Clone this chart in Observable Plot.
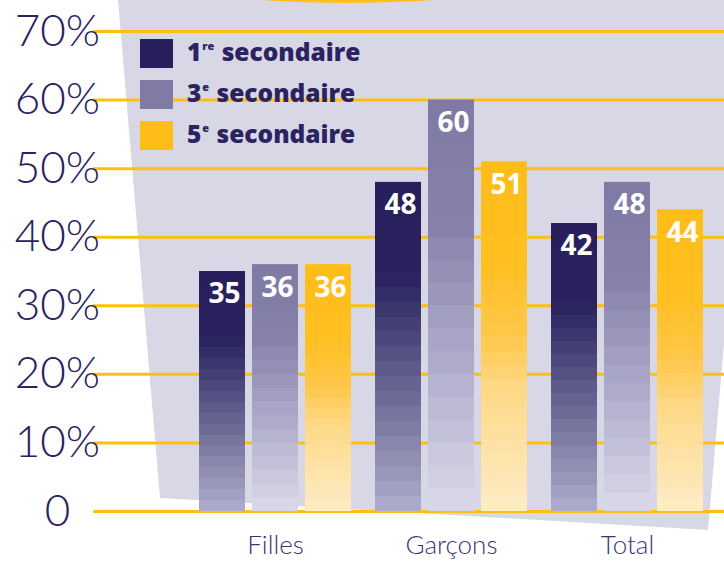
<!DOCTYPE html>
<html>
<head>
<meta charset="utf-8">
<script src="https://cdn.jsdelivr.net/npm/d3@7"></script>
<script src="https://cdn.jsdelivr.net/npm/@observablehq/plot@0.6"></script>
<style>
  html, body { margin: 0; padding: 0; background: #ffffff; }
  #wrap { position: relative; width: 724px; height: 561px; overflow: hidden; }
  #bg, #chart, #legend { position: absolute; left: 0; top: 0; }
  #chart svg { background: transparent; overflow: visible; }
  #legend { font-family: "Open Sans", sans-serif; font-weight: 800; font-size: 24.5px; color: #2a2360; }
  .item { position: absolute; left: 140px; height: 29px; width: 280px; }
  .sw { position: absolute; left: 0; top: 0; width: 33px; height: 29px; }
  .lab { position: absolute; left: 47px; top: -3px; white-space: nowrap; line-height: 32px; }
  .lab sup { font-size: 11px; vertical-align: 0; position: relative; top: -11px; margin-left: 1px; margin-right: 1px; }
</style>
</head>
<body>
<div id="wrap">
  <svg id="bg" width="724" height="561">
    <defs>
      <linearGradient id="gNavy" x1="0" y1="0" x2="0" y2="1"></linearGradient>
      <linearGradient id="gGrey" x1="0" y1="0" x2="0" y2="1"></linearGradient>
      <linearGradient id="gYellow" x1="0" y1="0" x2="0" y2="1"></linearGradient>
    </defs>
    <polygon points="118,0 724,0 724,343 708,530 160,498" fill="#d8d7e6"></polygon>
    <ellipse cx="347" cy="-57" rx="277" ry="60" fill="#ffbe1a"></ellipse>
  </svg>
  <div id="chart"></div>
  <div id="legend"></div>
</div>
<script>
// ---- data ----
const groups = ["Filles", "Garçons", "Total"];
const seriesNames = ["1re secondaire", "3e secondaire", "5e secondaire"];
const seriesSup = ["re", "e", "e"];
const seriesNum = ["1", "3", "5"];
const values1 = [35, 48, 42];
const values3 = [36, 60, 48];
const values5 = [36, 51, 44];
const yTicks = [0, 10, 20, 30, 40, 50, 60, 70];
const yTickLabels = ["0", "10%", "20%", "30%", "40%", "50%", "60%", "70%"];

// ---- styles ----
const navy = "#2a2360";
const swatch = ["#27205d", "#7f7ba5", "#ffbd17"];
const fills = ["url(#gNavy)", "url(#gGrey)", "url(#gYellow)"];
const offsets = [-53, 0, 53];

// stepped gradients (banded look)
function buildGradient(id, stops, bands) {
  const g = document.getElementById(id);
  const interp = d3.scaleLinear().domain(stops.map(s => s[0])).range(stops.map(s => s[1])).interpolate(d3.interpolateRgb);
  for (let i = 0; i < bands; i++) {
    const t0 = i / bands, t1 = (i + 1) / bands;
    const c = interp((t0 + t1) / 2);
    for (const t of [t0, t1]) {
      const s = document.createElementNS("http://www.w3.org/2000/svg", "stop");
      s.setAttribute("offset", t);
      s.setAttribute("stop-color", c);
      g.appendChild(s);
    }
  }
}
buildGradient("gNavy", [[0, "#27205d"], [0.28, "#29225f"], [1, "#aeadca"]], 22);
buildGradient("gGrey", [[0, "#7e7aa4"], [0.3, "#8581aa"], [0.7, "#b7b4d1"], [1, "#dad9e8"]], 18);
buildGradient("gYellow", [[0, "#ffbd17"], [0.3, "#ffbf22"], [0.5, "#ffc84c"], [0.65, "#fed886"], [1, "#fdecc6"]], 24);

const valueSets = [values1, values3, values5];
const tables = valueSets.map((vals, s) => groups.map((g, i) => ({group: g, value: vals[i], series: seriesNames[s]})));

const marks = [
  Plot.ruleY(yTicks, {stroke: "#ffbf0f", strokeWidth: 3})
];
tables.forEach((t, s) => {
  marks.push(Plot.barY(t, {x: "group", y: "value", fill: fills[s], dx: offsets[s]}));
});
tables.forEach((t, s) => {
  marks.push(Plot.text(t, {
    x: "group", y: "value", text: d => String(d.value), dx: offsets[s] + 2, dy: 12,
    lineAnchor: "top", fill: "white", fontSize: 28, fontWeight: 700,
    fontFamily: "Open Sans, sans-serif"
  }));
});
marks.push(Plot.axisY({
  ticks: yTicks, tickFormat: d => yTickLabels[yTicks.indexOf(d)],
  tickSize: 0, tickPadding: 0, textAnchor: "middle", dx: -36,
  fontSize: 44, fill: navy, fontFamily: "Lato, sans-serif", fontWeight: 300, label: null
}));
marks.push(Plot.axisX({
  tickSize: 0, tickPadding: 24, fontSize: 26, fill: "#3b3672",
  fontFamily: "Lato, sans-serif", fontWeight: 300, label: null
}));

const chart = Plot.plot({
  width: 724,
  height: 561,
  marginTop: 31,
  marginBottom: 50,
  marginLeft: 93,
  marginRight: 0,
  style: {background: "transparent", overflow: "visible"},
  x: {domain: groups, range: [251, 651], paddingInner: 0.74, paddingOuter: 0},
  y: {domain: [0, 70]},
  marks
});
document.getElementById("chart").appendChild(chart);

// legend
const legend = document.getElementById("legend");
seriesNames.forEach((name, i) => {
  const item = document.createElement("div");
  item.className = "item";
  item.style.top = (39 + i * 41) + "px";
  item.innerHTML = `<div class="sw" style="background:${swatch[i]}"></div>` +
    `<div class="lab">${seriesNum[i]}<sup>${seriesSup[i]}</sup> secondaire</div>`;
  legend.appendChild(item);
});
</script>
</body>
</html>
